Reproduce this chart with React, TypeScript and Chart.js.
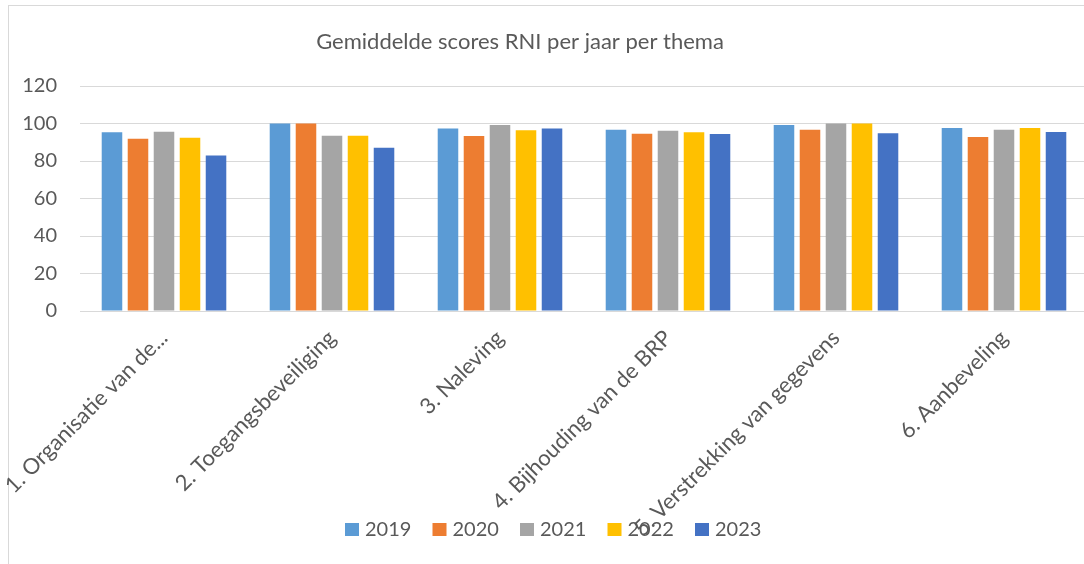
import React, { useEffect, useRef } from "react";
import { Chart, registerables } from "chart.js";

Chart.register(...registerables);

const categories = [
  "1. Organisatie van de...",
  "2. Toegangsbeveiliging",
  "3. Naleving",
  "4. Bijhouding van de BRP",
  "5. Verstrekking van gegevens",
  "6. Aanbeveling",
];

const years = ["2019", "2020", "2021", "2022", "2023"];

const values2019 = [95.3, 100, 97.4, 96.7, 99.2, 97.6];
const values2020 = [91.9, 100, 93.3, 94.6, 96.7, 92.8];
const values2021 = [95.6, 93.5, 99.2, 96.2, 100, 96.7];
const values2022 = [92.4, 93.5, 96.4, 95.3, 100, 97.6];
const values2023 = [83.0, 87.1, 97.3, 94.4, 94.8, 95.5];

const seriesValues = [values2019, values2020, values2021, values2022, values2023];
const colors = ["#5B9BD5", "#ED7D31", "#A5A5A5", "#FFC000", "#4472C4"];

const yTicks = [0, 20, 40, 60, 80, 100, 120];

const titleText = "Gemiddelde scores RNI per jaar per thema";
const FONT = "Lato";
const TEXT = "#595959";

const overlayPlugin = {
  id: "overlay",
  afterDraw(chart: any) {
    const ctx = chart.ctx;
    ctx.save();
    // title
    ctx.fillStyle = TEXT;
    ctx.font = `22px ${FONT}`;
    ctx.textAlign = "center";
    ctx.textBaseline = "middle";
    ctx.fillText(titleText, 520, 42);
    // legend
    const ds = chart.data.datasets;
    ctx.font = `20px ${FONT}`;
    ctx.textAlign = "left";
    for (let i = 0; i < ds.length; i++) {
      const x = 345 + i * 87.5;
      ctx.fillStyle = ds[i].backgroundColor;
      ctx.fillRect(x, 523, 14, 13);
      ctx.fillStyle = TEXT;
      ctx.fillText(ds[i].label, x + 20, 530);
    }
    ctx.restore();
  },
};

export default function App() {
  const ref = useRef<HTMLCanvasElement>(null);
  useEffect(() => {
    if (!ref.current) return;
    const chart = new Chart(ref.current, {
      type: "bar",
      data: {
        labels: categories,
        datasets: years.map((y, i) => ({
          label: y,
          data: seriesValues[i],
          backgroundColor: colors[i],
          borderWidth: 0,
          categoryPercentage: 0.774,
          barPercentage: 0.79,
        })),
      },
      options: {
        responsive: false,
        animation: false,
        devicePixelRatio: 1,
        layout: { padding: { left: 0, right: 12, top: 86, bottom: 0 } },
        plugins: {
          legend: { display: false },
          title: { display: false },
          tooltip: { enabled: false },
        },
        scales: {
          x: {
            grid: { display: false, drawTicks: false },
            border: { display: true, color: "#D9D9D9", width: 1 },
            ticks: {
              autoSkip: false,
              minRotation: 45,
              maxRotation: 45,
              color: TEXT,
              font: { family: FONT, size: 22 },
              padding: 14,
              labelOffset: 0,
            },
            afterFit: (s: any) => {
              s.height = 253;
              s.paddingLeft = 0;
              s.paddingRight = 0;
            },
          },
          y: {
            min: 0,
            max: 120,
            afterBuildTicks: (s: any) => {
              s.ticks = yTicks.map((v) => ({ value: v }));
            },
            grid: { color: "#D9D9D9", lineWidth: 1, drawTicks: false },
            border: { display: false },
            ticks: {
              color: TEXT,
              font: { family: FONT, size: 20 },
              padding: 23,
            },
            afterFit: (s: any) => {
              s.width = 80;
            },
          },
        },
      },
      plugins: [overlayPlugin],
    });
    return () => chart.destroy();
  }, []);

  return (
    <div
      style={{
        position: "absolute",
        left: 0,
        top: 0,
        width: 1084,
        height: 564,
        overflow: "hidden",
        background: "#fff",
      }}
    >
      <div
        style={{
          position: "absolute",
          left: 8,
          top: 5,
          width: 1200,
          height: 700,
          border: "1px solid #D9D9D9",
        }}
      />
      <canvas
        ref={ref}
        width={1100}
        height={564}
        style={{ position: "absolute", left: 0, top: 0, width: 1100, height: 564 }}
      />
    </div>
  );
}
